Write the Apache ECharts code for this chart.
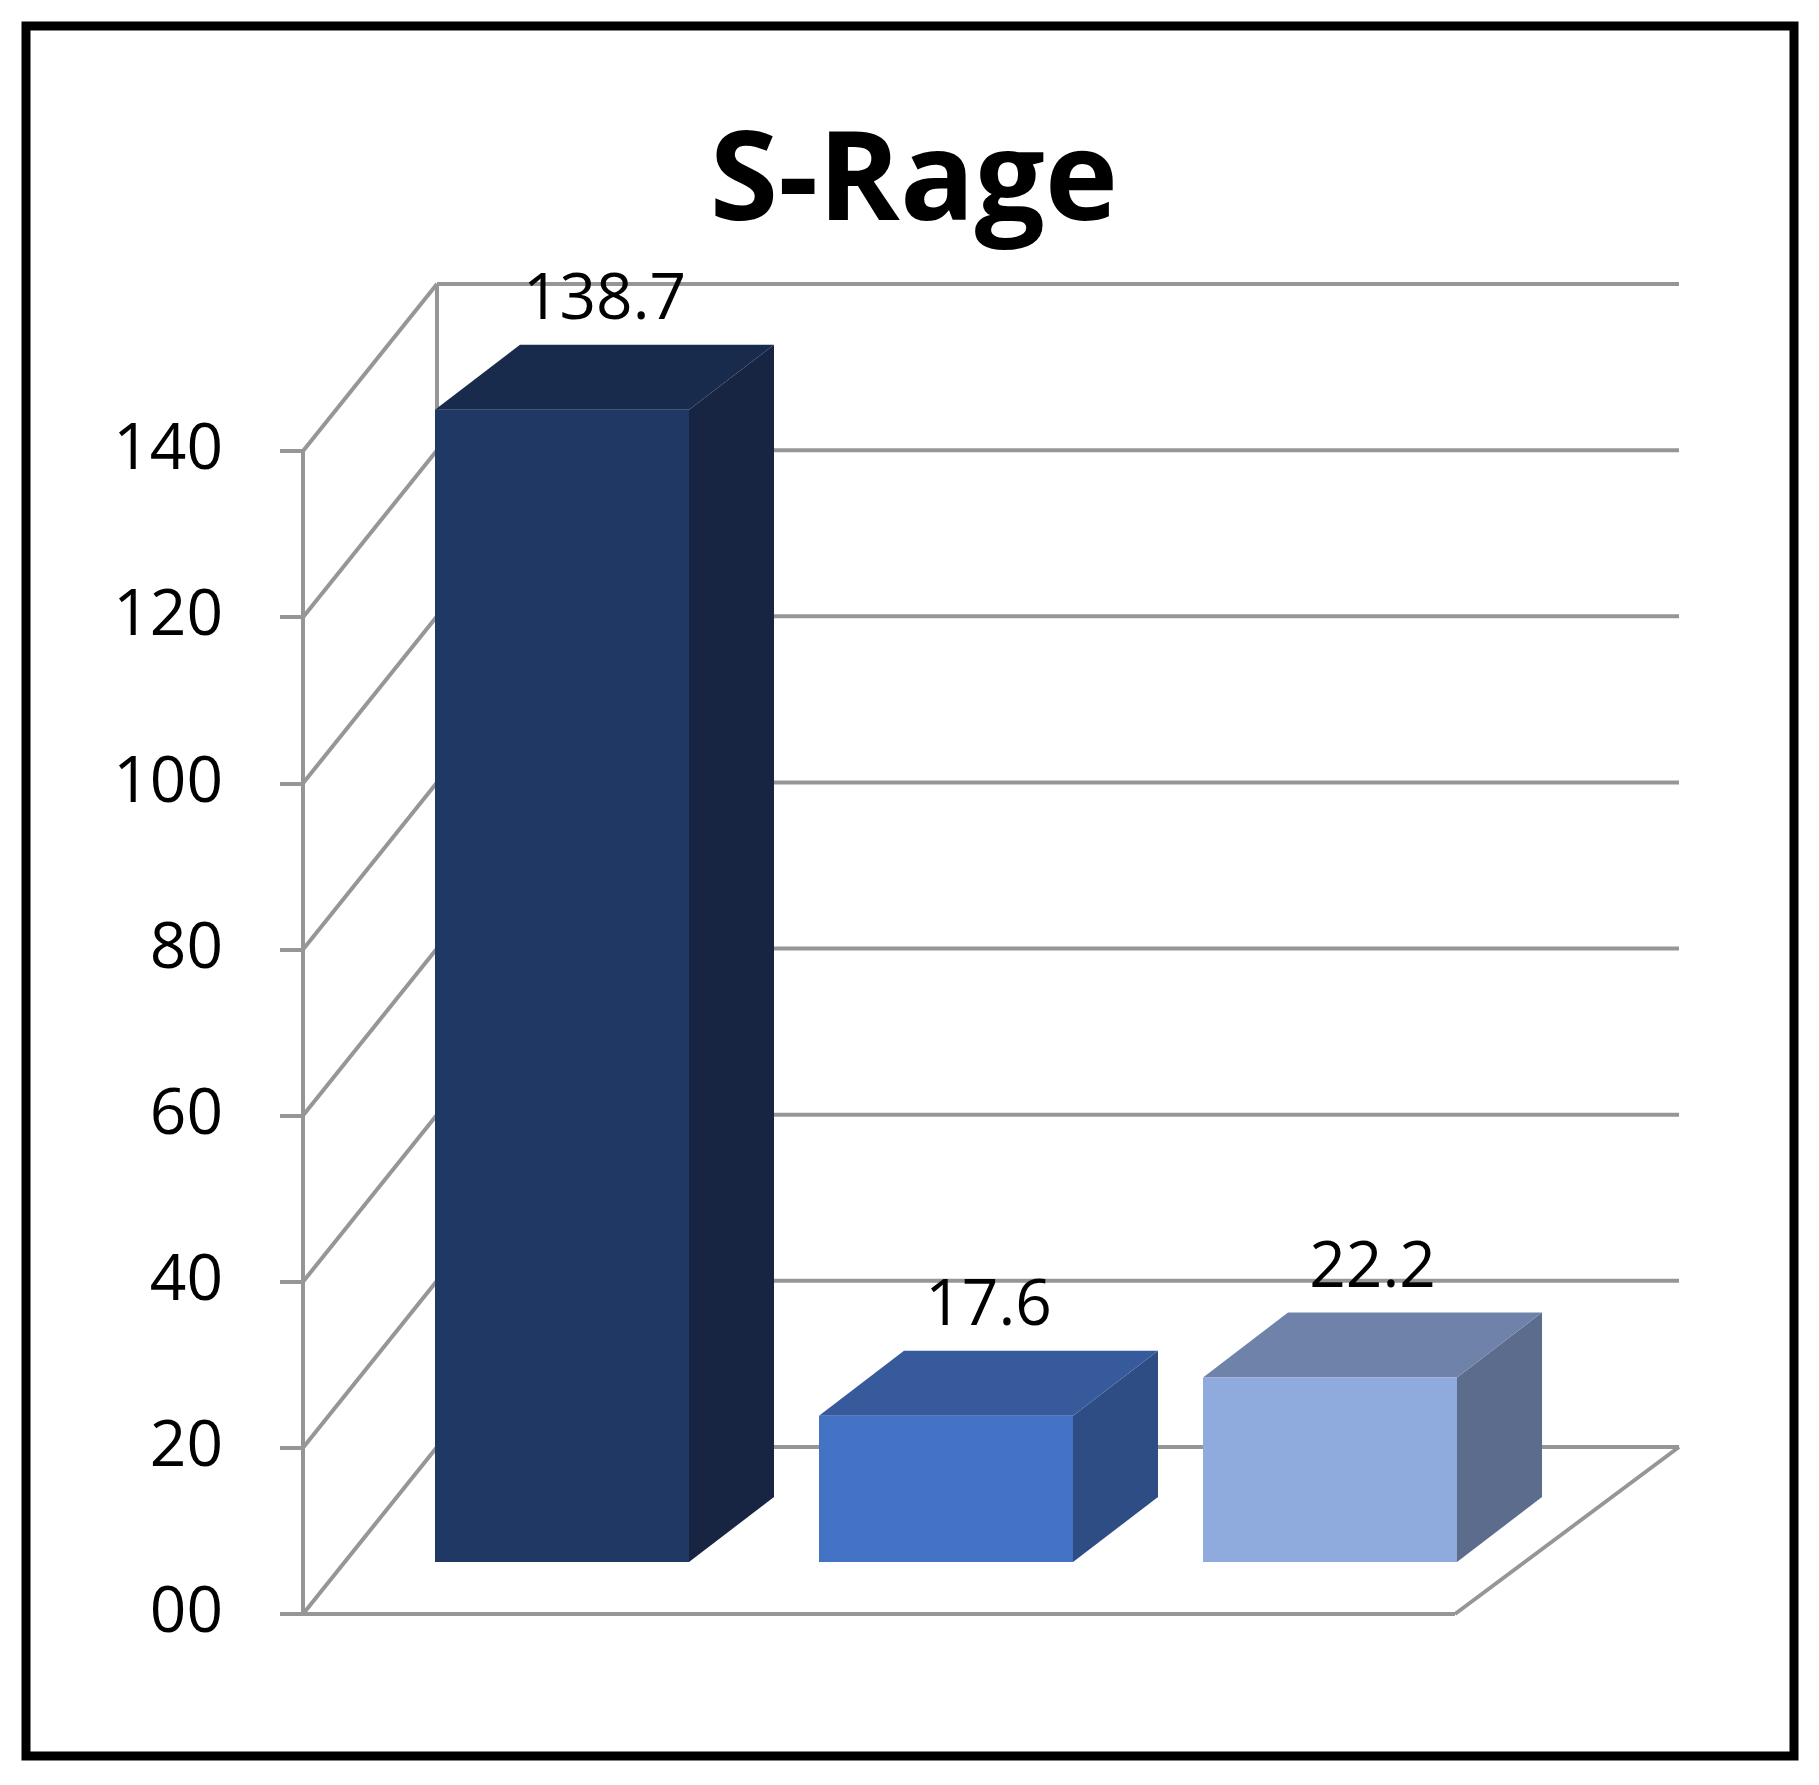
<!DOCTYPE html>
<html><head><meta charset="utf-8">
<script src="https://cdn.jsdelivr.net/npm/echarts@6/dist/echarts.min.js"></script>
<style>html,body{margin:0;padding:0;background:#fff}#c{width:1819px;height:1785px}</style>
</head><body><div id="c"></div>
<script>
const categories = ['A', 'B', 'C'];
const values = [138.7, 17.6, 22.2];
const labels = ['138.7', '17.6', '22.2'];
const ticks = [0, 20, 40, 60, 80, 100, 120, 140];
const tickLabels = ['00', '20', '40', '60', '80', '100', '120', '140'];
const faceColors = [
  ['#203864', '#172543', '#192b4d'],
  ['#4472c4', '#2e4d85', '#365a9c'],
  ['#8faadc', '#5b6c8c', '#6f83aa']
];
const BX = 134, BY = -167, RIGHT_BACK = 1679, RIGHT_FRONT = 1455;
const DX = 85, DY = -65, BAR_W = 254, BAR_OFF_X = 67, BAR_OFF_Y = -52;
const G = '#969696', LW = 4;
const chart = echarts.init(document.getElementById('c'));
function ln(x1, y1, x2, y2) { return { type: 'line', shape: { x1, y1, x2, y2 }, style: { stroke: G, lineWidth: LW } }; }
chart.setOption({
  animation: false,
  title: { text: 'S-Rage', left: 909, top: 118, textAlign: 'center',
    textStyle: { fontFamily: 'Open Sans', fontWeight: 'bold', fontSize: 124, color: '#000' } },
  graphic: [{ type: 'rect', shape: { x: 26, y: 26, width: 1768, height: 1730 },
    style: { fill: 'none', stroke: '#000', lineWidth: 9 } }],
  grid: { left: 303, right: 1819 - RIGHT_FRONT, top: 451, bottom: 1785 - 1614 },
  xAxis: { type: 'category', data: categories, show: false },
  yAxis: { type: 'value', min: 0, max: 140, interval: 20,
    axisLine: { show: true, lineStyle: { color: G, width: LW } },
    axisTick: { show: true, length: 23, lineStyle: { color: G, width: LW } },
    splitLine: { show: false },
    axisLabel: { margin: 80, fontFamily: 'Open Sans', fontSize: 64, color: '#000',
      formatter: v => tickLabels[ticks.indexOf(v)] } },
  series: [
    { type: 'custom', silent: true, z: 1, data: ticks.map(t => [0, t]),
      renderItem: (params, api) => {
        const v = api.value(1);
        const p = api.coord([0, v]);
        const x0 = 303, y = p[1];
        const ch = [ln(x0, y, x0 + BX, y + BY), ln(x0 + BX, y + BY, RIGHT_BACK, y + BY)];
        if (v === 0) {
          ch.push(ln(x0, y, RIGHT_FRONT, y));
          ch.push(ln(RIGHT_FRONT, y, RIGHT_BACK, y + BY));
          const top = api.coord([0, 140]);
          ch.push(ln(x0 + BX, y + BY, x0 + BX, top[1] + BY));
        }
        return { type: 'group', children: ch };
      } },
    { type: 'custom', z: 5, data: values.map((v, i) => [i, v]),
      renderItem: (params, api) => {
        const i = api.value(0), v = api.value(1);
        const base = api.coord([i, 0]), top = api.coord([i, v]);
        const cx = base[0] + BAR_OFF_X;
        const l = cx - BAR_W / 2, r = cx + BAR_W / 2;
        const b = base[1] + BAR_OFF_Y, t = top[1] + BAR_OFF_Y;
        const c = faceColors[i];
        return { type: 'group', children: [
          { type: 'polygon', shape: { points: [[r, b], [r + DX, b + DY], [r + DX, t + DY], [r, t]] }, style: { fill: c[1] } },
          { type: 'polygon', shape: { points: [[l, t], [r, t], [r + DX, t + DY], [l + DX, t + DY]] }, style: { fill: c[2] } },
          { type: 'rect', shape: { x: l, y: t, width: BAR_W, height: b - t }, style: { fill: c[0] } },
          { type: 'text', style: { text: labels[i], x: cx + DX / 2, y: t + DY - 12, align: 'center', verticalAlign: 'bottom',
            fontFamily: 'Open Sans', fontSize: 64, fill: '#000' } }
        ] };
      } }
  ]
});
</script></body></html>
